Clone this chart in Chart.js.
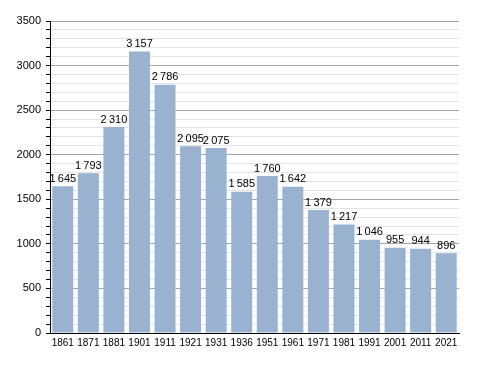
<!DOCTYPE html>
<html lang="en">
<head>
<meta charset="UTF-8">
<title>Population</title>
<script src="https://cdn.jsdelivr.net/npm/chart.js@4.4.1/dist/chart.umd.min.js"></script>
<style>
  html, body { margin: 0; padding: 0; background: #fff; }
  #wrap { position: relative; width: 488px; height: 373px; }
</style>
</head>
<body>
<div id="wrap"><canvas id="chart"></canvas></div>
<script>
// census years and population
const years = ['1861', '1871', '1881', '1901', '1911', '1921', '1931', '1936',
  '1951', '1961', '1971', '1981', '1991', '2001', '2011', '2021'];
const population = [1645, 1793, 2310, 3157, 2786, 2095, 2075, 1585,
  1760, 1642, 1379, 1217, 1046, 955, 944, 896];
const yMax = 3500;
const yStep = 100;
const yLabelStep = 500;

const barColor = '#98b2cf';
const family = "'Liberation Sans', Arial, sans-serif";
const font = { family: family, size: 11 };

// thousands with a thin space, like "1 645"
const fmt = v => v >= 1000 ? Math.floor(v / 1000) + '\u2009' + String(v % 1000).padStart(3, '0') : String(v);

const valueLabels = {
  id: 'valueLabels',
  afterDatasetsDraw(chart) {
    const ctx = chart.ctx;
    const meta = chart.getDatasetMeta(0);
    ctx.save();
    ctx.font = font.size + 'px ' + font.family;
    ctx.fillStyle = '#000';
    ctx.textAlign = 'center';
    ctx.textBaseline = 'bottom';
    meta.data.forEach((bar, i) => {
      ctx.fillText(fmt(population[i]), bar.x, bar.y - 2);
    });
    ctx.restore();
  }
};

new Chart(document.getElementById('chart'), {
  type: 'bar',
  plugins: [valueLabels],
  data: {
    labels: years,
    datasets: [{
      data: population,
      backgroundColor: barColor,
      borderWidth: 0,
      barPercentage: 0.82,
      categoryPercentage: 1
    }]
  },
  options: {
    responsive: true,
    maintainAspectRatio: false,
    animation: false,
    layout: { padding: { left: 0, top: 21, right: 29, bottom: 0 } },
    plugins: { legend: { display: false }, tooltip: { enabled: false } },
    scales: {
      x: {
        grid: { display: false, drawTicks: false },
        border: { color: '#000', width: 1 },
        ticks: { color: '#000', font: { family: family, size: 10 }, padding: 4, maxRotation: 0, autoSkip: false },
        afterFit: s => { s.height = 40; }
      },
      y: {
        min: 0,
        max: yMax,
        border: { color: '#000', width: 1 },
        grid: {
          color: c => c.tick && c.tick.value % yLabelStep === 0 ? '#a6a6a6' : '#e4e4e4',
          tickColor: '#000',
          tickLength: 4
        },
        ticks: {
          stepSize: yStep,
          maxTicksLimit: 100,
          autoSkip: false,
          color: '#000',
          font: font,
          padding: 5,
          callback: v => v % yLabelStep === 0 ? String(v) : ''
        },
        afterFit: s => { s.width = 50; }
      }
    }
  }
});
</script>
</body>
</html>
